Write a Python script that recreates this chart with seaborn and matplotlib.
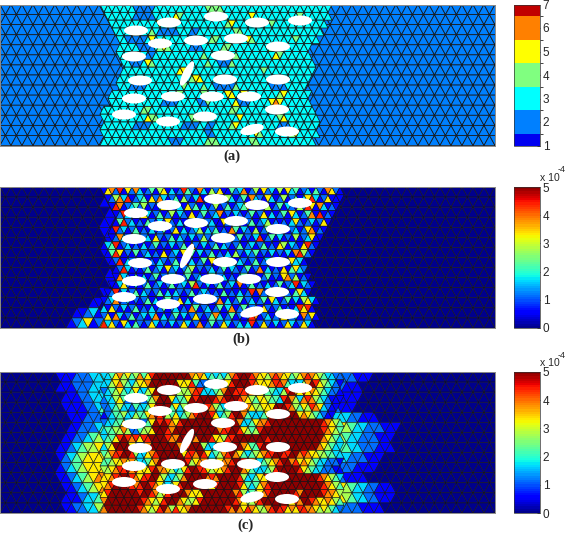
import numpy as np
import matplotlib
matplotlib.use("Agg")
import matplotlib.pyplot as plt
import matplotlib.tri as mtri
from matplotlib.colors import ListedColormap, BoundaryNorm, Normalize
from matplotlib.cm import ScalarMappable
from matplotlib.patches import Ellipse
import seaborn as sns

sns.set_style("white")
plt.rcParams['font.family'] = ['Liberation Sans', 'DejaVu Sans']

# hole centres and sizes, in pixels from the panel corner
hole_x = [136, 169, 216, 257, 300, 160, 196, 236, 278, 134, 223, 187, 140, 225, 278,
          134, 173, 212, 249, 277, 124, 168, 205, 252, 287]
hole_y = [26, 18, 12, 18, 16, 39, 36, 34, 42, 52, 51, 69, 76, 75, 75,
          94, 92, 92, 92, 105, 110, 117, 112, 125, 127]
hole_w = [24, 24, 24, 24, 24, 24, 24, 24, 24, 24, 24, 27, 24, 24, 24,
          24, 24, 24, 24, 24, 24, 24, 24, 24, 24]
hole_h = [10, 10, 10, 10, 10, 10, 10, 10, 10, 10, 10, 8, 10, 10, 10,
          10, 10, 10, 10, 10, 10, 10, 10, 10, 10]
hole_angle = [0, 0, 0, 0, 0, 0, 0, 0, 0, 0, 0, -63, 0, 0, 0,
              0, 0, 0, 0, 0, 0, 0, 0, -14, 0]

# fine mesh round the holes, one string per row, groups of ten triangles
center_a = [
    "3333333322 2223333333 3333334444 3333333333 3333333333 3333333222",
    "2333333322 2223333354 3333333344 4333333533 3333333334 3333333222",
    "2233333333 3333533333 3333333333 3453333333 3343333333 3333332222",
    "2223333353 3343222223 3322333333 3334433333 3333333333 3333322222",
    "2222332222 2353343333 3333333443 3333335433 3333333343 3333222222",
    "2222333332 2223454333 3322233333 4433333333 3345333333 3322222222",
    "2222333333 3223333333 3333343333 3334333333 3335433333 3322222222",
    "2222233222 3543333333 3333334332 2243333333 3333333333 3332222222",
    "2222233333 3333333335 5433333333 3333333333 4333333333 3332222222",
    "2222333333 3333333333 3345533334 4433333333 3333333333 3322222222",
    "2222333222 2333333333 4333343322 2224333333 3322223333 3222222222",
    "2233333333 3333333334 3333344333 3553355333 3333453333 3322222222",
    "2233333333 3333322223 3333224333 3335222333 3356533333 3322222222",
    "3333333333 4433333333 3333333333 3344333333 3336533333 3332222222",
    "3333333333 3544333333 3344333333 3333533333 3333453333 3333222222",
    "3333333322 2233333333 2222332233 3345333333 3333222333 3333222222",
    "3333333333 3333333333 3333332233 3333333354 3333333453 3333222222",
    "3333333333 3333333222 3333334443 3333333443 3333333333 3332222222",
]

center_b = [
    "1672816273 1241561312 8421731526 1142371251 6231516341 2314217621",
    "0125738123 4162731241 5213812631 2531241732 1631251241 3683126111",
    "0018712342 5121362123 1624131251 2412346121 3512413215 2861731210",
    "0001283241 6312412513 2161241237 1213212412 6131241631 2471812100",
    "0001482312 1421316213 1241242311 6231212412 3512121362 1231261000",
    "0018231241 2131241261 3123513241 2174132151 2412131231 2671210000",
    "0012732141 2316212413 2131252131 6212412138 1241312151 2361100000",
    "1348123121 3124121312 4172131241 3212412312 4121651321 6821000000",
    "0148612141 2312161231 6241312412 1315213241 2131213178 5210000000",
    "0012813212 4121321241 8131241612 3151321241 2312412633 1000000000",
    "0001283121 2412316231 2451212312 4132124127 1312161463 2000000000",
    "0001732141 3124121371 2412312412 3121342131 2412167251 2100000000",
    "0011362131 2412312412 3158213124 1231712412 1312412381 3210000000",
    "0128131241 3212413132 1241232121 4121312817 2136132146 3100000000",
    "1237123121 2413124126 1312413127 1312412312 4163124131 5631000000",
    "3162131241 2131241231 2174123124 1371241231 6212412138 6810000000",
    "2617312412 3137131241 3126212473 1241212871 2312161231 7261000000",
    "8362163142 1263121312 6312712412 6312313812 6213126312 6310000000",
]

center_c = [
    "3346756457 4689999999 9976763434 3578999876 6578766456 7876543322",
    "3356754356 6799999996 6684223335 4689999876 6678874333 5798654321",
    "2345643463 3569999955 5578833345 7998888766 5443358976 8676543221",
    "2335642334 2457999634 4698999987 8999876546 6544389753 7875432111",
    "2234533243 3468999463 5689998754 3458977655 6669998754 6587632110",
    "1234453354 4679895463 4578999863 4589974333 4689999996 7654321100",
    "2334463232 2469898768 9999999987 6789733467 7899999999 9999987654",
    "3445575224 5569998799 9999999997 8899865458 9999999999 9999987654",
    "3446898786 8899998779 9997999866 5889999999 9899999999 9999976543",
    "3569999642 3799999997 8899953336 8999976448 9999999999 9999765433",
    "4578899853 3678999999 6887986345 7897643456 7889988997 8766554433",
    "4456676753 3467999999 9856778456 7789986743 4567899786 7654332221",
    "5567889786 6689776534 6899886566 7899976433 3458999998 6543322211",
    "6678899876 8899653345 7999997879 9999853346 6899999999 9999876543",
    "6789998878 9987643468 9999987689 9999864346 7899999999 9999987654",
    "6899999998 9987568999 9766699999 9997853456 7899999987 9999987765",
    "7999999999 8765689997 6556899999 9998765578 9999997687 9987667654",
    "7999999998 7656897586 6799999999 9879768765 5789886768 8776565432",
]

# coarse mesh on both sides: left part ends at x=110, right part starts at x=330
left_b = ["1", "11", "1", "11", "11", "1", "12", "1", "1", "1", "11", "1100",
          "1123100", "12361263"]
left_c = [
    "00000000001112223345", "00000000001112223334", "00000000000111223334",
    "00000000000111122343", "00000000000011122233", "00000000000011222343",
    "00000000000112234555", "00000000001123455666", "00000000001234566666",
    "00000000001234566667", "00000000001123456778", "00000000000112345678",
    "00000000000111233467", "00000000000112233556",
]
right_b = ["0"] * 14
right_c = [
    "2222111000", "2211100000", "2111100000", "2111000000", "3332211100",
    "7654332221110", "6543322211100", "5443322211100", "4332221110", "2222111100",
    "2211110000", "6654332211100", "6654332211100", "3322211110",
]

ticks_a = [1, 2, 3, 4, 5, 6, 7]
ticks_bc = [0, 1, 2, 3, 4, 5]
colors_a = ["#0000f0", "#0080ff", "#00ffff", "#80ff80", "#ffff00", "#ff8000", "#c00000"]
panel_tops = [4.5, 187, 372]
panel_labels = ["(a)", "(b)", "(c)"]
label_x = [232, 241, 245]
label_y = [156, 339, 525]
line_widths = [0.55, 0.4, 0.4]

W, H = 568, 533
PANEL_W, PANEL_H = 495, 141
CBAR_X, CBAR_W = 514, 26


def build_mesh(x0, dx, n_col, n_rows):
    xs, ys = [], []
    for j in range(n_rows + 1):
        for i in range(n_col):
            xs.append(x0 + i * dx + (dx / 2 if j % 2 else 0))
            ys.append(j * PANEL_H / n_rows)
    tris, where = [], []
    for j in range(n_rows):
        for i in range(n_col - 1):
            t0, t1 = j * n_col + i, j * n_col + i + 1
            b0, b1 = (j + 1) * n_col + i, (j + 1) * n_col + i + 1
            if j % 2 == 0:
                tris += [(t0, b0, t1), (b0, t1, b1)]
            else:
                tris += [(b0, t0, b1), (t0, b1, t1)]
            where += [(j, 2 * i), (j, 2 * i + 1)]
    return np.array(xs), np.array(ys), np.array(tris), where


def side_rows(left, right):
    # the coarse mesh starts one cell left of the panel, so x=110 is char 22 and x=330 is char 62
    return ["00" + l.rjust(20, "0") + "0" * 40 + r.ljust(32, "0") for l, r in zip(left, right)]


def face_chars(grid, where):
    rows = [r.replace(" ", "") for r in grid]
    return [rows[j][min(k, len(rows[j]) - 1)] for j, k in where]


def fine_keep(grid, where, background):
    # the fine mesh only runs as far as the values differ from the background
    rows = [r.replace(" ", "") for r in grid]
    keep = []
    for j, k in where:
        row = rows[j]
        k = min(k, len(row) - 1)
        keep.append(len(row[:k + 1].strip(background)) > 0 and len(row[k:].strip(background)) > 0)
    return np.array(keep)


cx, cy, ctri, coarse_where = build_mesh(-11, 11, 48, 14)
fx, fy, ftri, fine_where = build_mesh(100, 8, 31, 18)
coarse = mtri.Triangulation(cx, cy, ctri)


def jet_level(c):
    return int(c) * 5 / 9


cmap_a = ListedColormap(colors_a)
norm_a = BoundaryNorm([1, 1.5, 2.5, 3.5, 4.5, 5.5, 6.5, 7], 7)
cmap_jet = ListedColormap(sns.mpl_palette("jet", 64))
norm_jet = Normalize(0, 5)

coarse_a = ["2" * 94] * 14
coarse_b = side_rows(left_b, right_b)
coarse_c = side_rows(left_c, right_c)

panels = [
    (coarse_a, center_a, "2", int, cmap_a, norm_a, ticks_a),
    (coarse_b, center_b, "0", jet_level, cmap_jet, norm_jet, ticks_bc),
    (coarse_c, center_c, "0", jet_level, cmap_jet, norm_jet, ticks_bc),
]

fig = plt.figure(figsize=(W / 100, H / 100), dpi=100)

for n, (side, center, bg, scale, cmap, norm, ticks) in enumerate(panels):
    top = panel_tops[n]
    lw = line_widths[n]
    ax = fig.add_axes([0, 1 - (top + PANEL_H) / H, PANEL_W / W, PANEL_H / H])
    side_vals = np.array([scale(c) for c in face_chars(side, coarse_where)], dtype=float)
    ax.tripcolor(coarse, facecolors=side_vals, cmap=cmap, norm=norm,
                 edgecolors="#151515", linewidth=lw, zorder=1)
    keep = fine_keep(center, fine_where, bg)
    fine_vals = np.array([scale(c) for c in face_chars(center, fine_where)], dtype=float)
    fine = mtri.Triangulation(fx, fy, ftri[keep])
    ax.tripcolor(fine, facecolors=fine_vals[keep], cmap=cmap, norm=norm,
                 edgecolors="#151515", linewidth=lw, zorder=2)
    for x, y, w, h, a in zip(hole_x, hole_y, hole_w, hole_h, hole_angle):
        ax.add_patch(Ellipse((x, y), w, h, angle=a, fc="white", ec="none", zorder=5))
    ax.set_xlim(0, PANEL_W)
    ax.set_ylim(PANEL_H, 0)
    ax.set_xticks([])
    ax.set_yticks([])
    for sp in ax.spines.values():
        sp.set_color("#8c8c8c")
        sp.set_linewidth(0.7)

    cax = fig.add_axes([CBAR_X / W, 1 - (top + PANEL_H) / H, CBAR_W / W, PANEL_H / H])
    cb = fig.colorbar(ScalarMappable(norm=norm, cmap=cmap), cax=cax, ticks=ticks, spacing="proportional")
    cb.ax.tick_params(labelsize=8.5, length=2, width=0.5, direction="in", pad=2, color="black")
    cb.outline.set_linewidth(0.5)
    cb.outline.set_edgecolor("#333333")

    fig.text(label_x[n] / W, 1 - label_y[n] / H, panel_labels[n], ha="center", va="center",
             family="Liberation Serif", fontweight="bold", fontsize=10.5)

    if n > 0:
        fig.text(540 / W, 1 - (top - 9) / H, "x 10", fontsize=7.5, ha="left", va="center")
        fig.text(558 / W, 1 - (top - 17) / H, "-4", fontsize=6.5, ha="left", va="center")

fig.savefig("out.png", dpi=100)
